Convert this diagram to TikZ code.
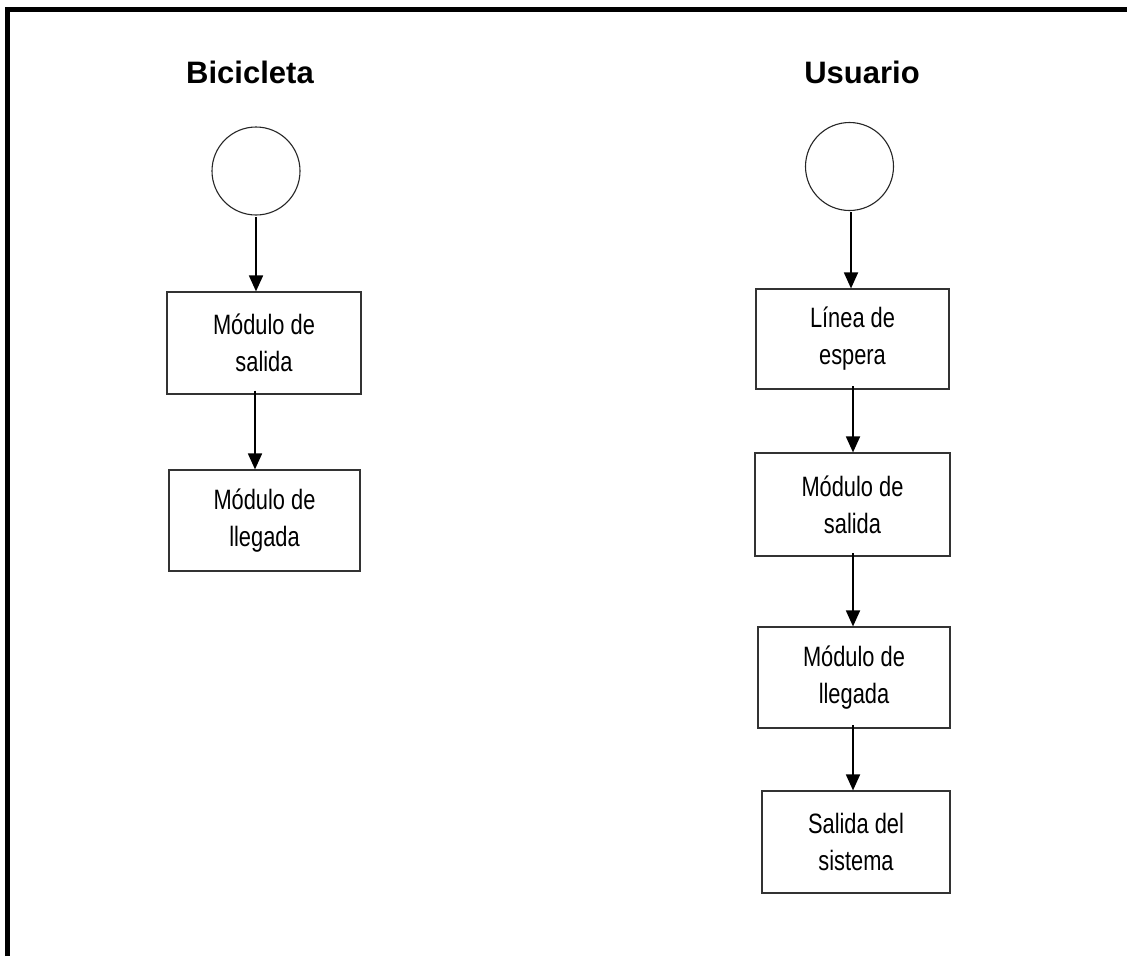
\documentclass[tikz,border=0pt]{standalone}
\usepackage{fontspec}
\setmainfont{Liberation Sans}
\newfontfamily\boxfont{Liberation Sans}[FakeStretch=0.78]
\newfontfamily\titlefont{Liberation Sans}
\usetikzlibrary{arrows.meta}
\begin{document}
\begin{tikzpicture}[x=1pt,y=-1pt,
  stepbox/.style={draw=black!80,line width=1.2pt,minimum width=194pt,minimum height=102pt,
    align=center,inner sep=0pt,font=\boxfont\fontsize{28}{37}\selectfont},
  startc/.style={draw=black!85,line width=1.1pt,circle,minimum size=88pt,inner sep=0pt},
  ttl/.style={font=\titlefont\bfseries\fontsize{31}{36}\selectfont},
  flow/.style={line width=1.8pt,-{Triangle[width=14pt,length=16pt]}}]
\useasboundingbox (0,0) rectangle (1127,956);
\fill[white] (0,0) rectangle (1127,956);
\draw[line width=5pt] (7.5,956) -- (7.5,9) -- (1127,9);
% left column
\node[ttl] (t1) at (250,72) {Bicicleta};
\node[startc] (c1) at (256,171) {};
\node[stepbox] (b1) at (264,343) {Módulo de\\salida};
\node[stepbox,minimum width=191pt,minimum height=101pt] (b2) at (264.5,520.5) {Módulo de\\llegada};
\draw[flow] (c1.south |- 0,217) -- (c1.south |- b1.north);
\draw[flow] (b1.south -| c1.south) ++(-1,-4) -- (b2.north -| 255,0);
% right column
\node[ttl] (t2) at (862,72) {Usuario};
\node[startc] (c2) at (849.5,166.5) {};
\node[stepbox,minimum width=193pt,minimum height=100pt] (r1) at (852.5,339) {Línea de\\espera};
\node[stepbox,minimum width=195pt,minimum height=103pt] (r2) at (852.5,504.5) {Módulo de\\salida};
\node[stepbox,minimum width=192pt,minimum height=101pt] (r3) at (854,677.5) {Módulo de\\llegada};
\node[stepbox,minimum width=188pt,minimum height=102pt] (r4) at (856,842) {Salida del\\sistema};
\draw[flow] (851,212) -- (r1.north -| 851,0);
\draw[flow] (853,386) -- (r2.north -| 853,0);
\draw[flow] (853,553) -- (r3.north -| 853,0);
\draw[flow] (853,725) -- (r4.north -| 853,0);
\end{tikzpicture}
\end{document}
